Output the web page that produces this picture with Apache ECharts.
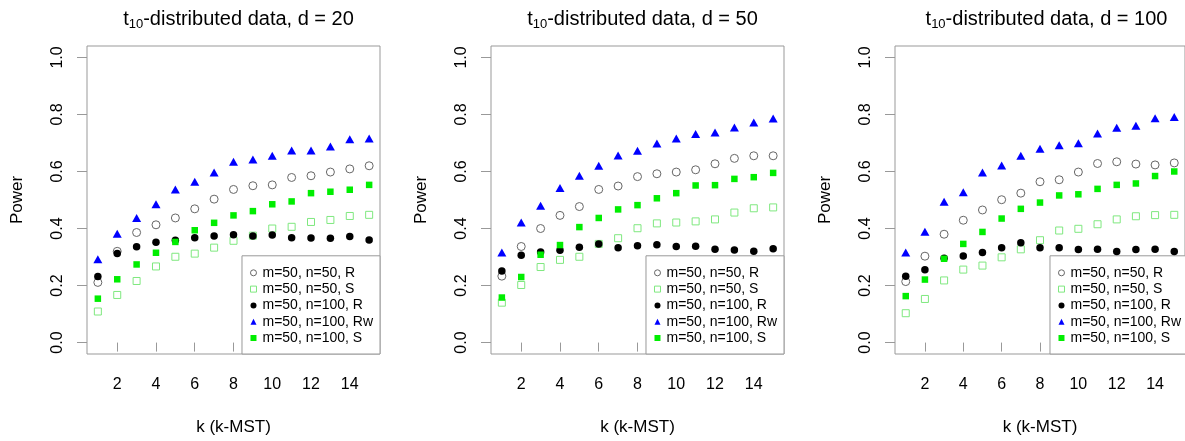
<!DOCTYPE html>
<html>
<head>
<meta charset="utf-8">
<script src="https://cdn.jsdelivr.net/npm/echarts@6/dist/echarts.min.js"></script>
<style>
html,body{margin:0;padding:0;background:#fff;}
#chart{width:1185px;height:441px;}
</style>
</head>
<body>
<div id="chart"></div>
<script>
// ---- data ----
const kValues = [1,2,3,4,5,6,7,8,9,10,11,12,13,14,15];
const xTicks = [2,4,6,8,10,12,14];
const yTicks = [0,0.2,0.4,0.6,0.8,1.0];
const dValues = [20, 50, 100];
const seriesNames = ['m=50, n=50, R','m=50, n=50, S','m=50, n=100, R','m=50, n=100, Rw','m=50, n=100, S'];

const d20_R50   = [0.211,0.320,0.386,0.413,0.437,0.469,0.503,0.537,0.550,0.553,0.579,0.585,0.598,0.609,0.620];
const d20_S50   = [0.109,0.167,0.216,0.267,0.301,0.312,0.333,0.357,0.375,0.400,0.406,0.423,0.430,0.444,0.448];
const d20_R100  = [0.232,0.312,0.336,0.352,0.359,0.368,0.374,0.378,0.374,0.377,0.368,0.367,0.366,0.372,0.360];
const d20_Rw100 = [0.292,0.382,0.437,0.485,0.537,0.564,0.596,0.634,0.642,0.655,0.674,0.674,0.688,0.713,0.716];
const d20_S100  = [0.154,0.222,0.274,0.315,0.353,0.394,0.420,0.446,0.461,0.485,0.495,0.524,0.529,0.536,0.553];

const d50_R50   = [0.233,0.337,0.400,0.446,0.477,0.537,0.549,0.582,0.592,0.598,0.606,0.627,0.646,0.655,0.655];
const d50_S50   = [0.140,0.202,0.265,0.290,0.301,0.346,0.366,0.401,0.418,0.421,0.425,0.432,0.456,0.471,0.474];
const d50_R100  = [0.251,0.306,0.318,0.324,0.334,0.346,0.333,0.340,0.343,0.337,0.338,0.327,0.325,0.320,0.329];
const d50_Rw100 = [0.316,0.421,0.480,0.542,0.585,0.620,0.656,0.673,0.698,0.716,0.731,0.737,0.754,0.772,0.786];
const d50_S100  = [0.158,0.230,0.308,0.342,0.405,0.437,0.467,0.482,0.506,0.524,0.551,0.552,0.574,0.580,0.595];

const d100_R50   = [0.214,0.303,0.380,0.429,0.465,0.501,0.524,0.564,0.571,0.598,0.628,0.634,0.626,0.623,0.630];
const d100_S50   = [0.103,0.153,0.218,0.256,0.270,0.299,0.327,0.359,0.393,0.399,0.415,0.432,0.443,0.447,0.448];
const d100_R100  = [0.233,0.255,0.296,0.304,0.316,0.333,0.350,0.333,0.333,0.326,0.327,0.319,0.326,0.327,0.319];
const d100_Rw100 = [0.316,0.389,0.494,0.527,0.596,0.621,0.655,0.680,0.692,0.699,0.733,0.753,0.760,0.787,0.791];
const d100_S100  = [0.163,0.221,0.294,0.346,0.388,0.435,0.469,0.491,0.516,0.520,0.539,0.553,0.558,0.584,0.600];

const panelData = [
  [d20_R50, d20_S50, d20_R100, d20_Rw100, d20_S100],
  [d50_R50, d50_S50, d50_R100, d50_Rw100, d50_S100],
  [d100_R50, d100_S50, d100_R100, d100_Rw100, d100_S100]
];

// ---- styles ----
const FONT = '"Liberation Sans", Arial, Helvetica, sans-serif';
const BOX = '#999999';
const markerStyles = [
  {symbol:'circle', symbolSize:8, itemStyle:{color:'rgba(0,0,0,0)', borderColor:'#666666', borderWidth:1, opacity:1}},
  {symbol:'rect', symbolSize:7, itemStyle:{color:'rgba(0,0,0,0)', borderColor:'#7fe87f', borderWidth:1, opacity:1}},
  {symbol:'circle', symbolSize:7.5, itemStyle:{color:'#000000', borderWidth:0, opacity:1}},
  {symbol:'triangle', symbolSize:[9,8], itemStyle:{color:'#0000ff', borderWidth:0, opacity:1}},
  {symbol:'rect', symbolSize:6.5, itemStyle:{color:'#00ee00', borderWidth:0, opacity:1}}
];
const legendIcons = [
  {icon:'circle', itemStyle:{color:'rgba(0,0,0,0)', borderColor:'#666666', borderWidth:1, opacity:1}},
  {icon:'rect', itemStyle:{color:'rgba(0,0,0,0)', borderColor:'#7fe87f', borderWidth:1, opacity:1}},
  {icon:'circle', itemStyle:{color:'#000000', borderWidth:0, opacity:1}},
  {icon:'triangle', itemStyle:{color:'#0000ff', borderWidth:0, opacity:1}},
  {icon:'rect', itemStyle:{color:'#00ee00', borderWidth:0, opacity:1}}
];

const W = 1185, H = 441;
const gridLefts = [87, 491, 895];
const gridTop = 46, gridW = 293, gridH = 308;

const grids = [], xAxes = [], yAxes = [], titles = [], legends = [], series = [];
gridLefts.forEach((gl, p) => {
  grids.push({left: gl, top: gridTop, width: gridW, height: gridH, show: true,
    borderColor: BOX, borderWidth: 1, backgroundColor: 'transparent', containLabel: false});
  xAxes.push({
    type: 'value', gridIndex: p, min: 0.44, max: 15.56,
    axisLine: {show: false},
    axisTick: {show: true, customValues: xTicks, length: 9, lineStyle: {color: BOX}},
    axisLabel: {show: true, customValues: xTicks, margin: 23, color: '#000', fontSize: 16, fontFamily: FONT},
    splitLine: {show: false},
    name: 'k (k-MST)', nameLocation: 'middle', nameGap: 65,
    nameTextStyle: {color: '#000', fontSize: 17, fontFamily: FONT}
  });
  yAxes.push({
    type: 'value', gridIndex: p, min: -0.04, max: 1.04,
    axisLine: {show: false},
    axisTick: {show: true, customValues: yTicks, length: 10, lineStyle: {color: BOX}},
    axisLabel: {show: true, customValues: yTicks, rotate: 90, margin: 21, color: '#000', fontSize: 16, fontFamily: FONT,
      formatter: v => v.toFixed(1)},
    splitLine: {show: false},
    name: 'Power', nameLocation: 'middle', nameGap: 61, nameRotate: 90,
    nameTextStyle: {color: '#000', fontSize: 17, fontFamily: FONT}
  });
  titles.push({
    text: 't{sub|10}-distributed data, d = ' + dValues[p],
    left: gl + gridW / 2, top: 2, textAlign: 'center',
    textStyle: {fontSize: 20, fontWeight: 'normal', color: '#000', fontFamily: FONT, lineHeight: 24,
      rich: {sub: {fontSize: 13, fontFamily: FONT, color: '#000', verticalAlign: 'bottom', lineHeight: 16}}}
  });
  legends.push({
    show: true, orient: 'vertical',
    right: W - (gl + gridW), bottom: H - (gridTop + gridH),
    padding: [10, 7, 9, 8], itemGap: 2.3, itemWidth: 6, itemHeight: 6,
    borderColor: BOX, borderWidth: 1, backgroundColor: '#fff',
    selectedMode: false,
    textStyle: {fontSize: 14, color: '#000', fontFamily: FONT, padding: [0,0,0,1]},
    data: seriesNames.map((n, i) => Object.assign({name: n}, legendIcons[i]))
  });
  panelData[p].forEach((vals, i) => {
    series.push(Object.assign({
      type: 'scatter', name: seriesNames[i],
      xAxisIndex: p, yAxisIndex: p,
      data: kValues.map((k, j) => [k, vals[j]]),
      z: 2 + i, silent: true, animation: false,
      emphasis: {disabled: true}
    }, JSON.parse(JSON.stringify(markerStyles[i]))));
  });
});

const chart = echarts.init(document.getElementById('chart'), null, {renderer: 'canvas'});
chart.setOption({
  animation: false,
  backgroundColor: '#ffffff',
  title: titles,
  grid: grids,
  xAxis: xAxes,
  yAxis: yAxes,
  legend: legends,
  series: series
});
</script>
</body>
</html>
